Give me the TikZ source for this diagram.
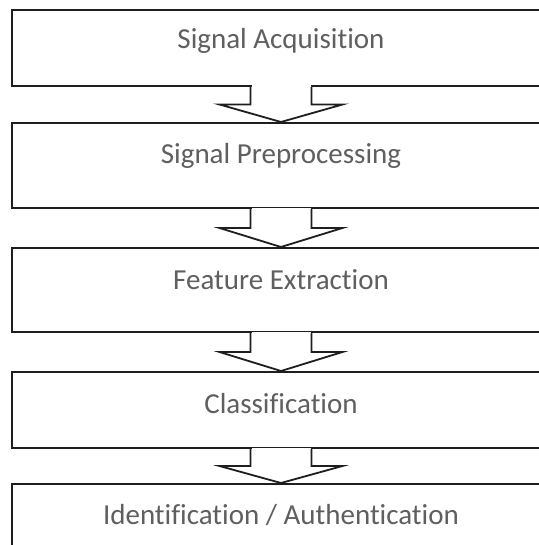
\documentclass[tikz,border=0pt]{standalone}
\usepackage{fontspec}
\setmainfont{Carlito}[Ligatures={NoCommon}]
\usetikzlibrary{calc}
\definecolor{txtgray}{RGB}{95,95,95}
\definecolor{linecol}{RGB}{30,30,30}
\tikzset{
  stagebox/.style={draw=linecol, line width=2pt, fill=white, rectangle, minimum width=538pt, inner sep=0pt},
  stagetext/.style={text=txtgray, font=\fontsize{29}{34}\selectfont, anchor=base, inner sep=0pt},
  blockarrow/.style={draw=linecol, line width=1.8pt, line join=miter, fill=white}
}
\newcommand{\flowarrow}[2]{%
  \fill[white] let \p1=(#1.south) in
    (\x1-29.5pt,\y1+1.5pt) rectangle (\x1+29.5pt,\y1-1.5pt);
  \path[blockarrow] let \p1=(#1.south), \p2=(#2.north), \n1={(\y1+\y2)/2} in
    (\x1-30.5pt,\y1) -- (\x1-30.5pt,\n1) -- (\x1-61.5pt,\n1) -- (\x1,\y2)
      -- (\x1+61.5pt,\n1) -- (\x1+30.5pt,\n1) -- (\x1+30.5pt,\y1);
}
\begin{document}
\begin{tikzpicture}[x=1pt,y=1pt]
\useasboundingbox (0,0) rectangle (538,-545);
\node[stagebox, minimum height=76pt] (b1) at (281,-48) {};
\node[stagebox, minimum height=85pt] (b2) at (281,-165.5) {};
\node[stagebox, minimum height=84pt] (b3) at (281,-290) {};
\node[stagebox, minimum height=76pt] (b4) at (281,-410) {};
\node[stagebox, minimum height=81pt] (b5) at (281,-524.5) {};
\node[stagetext] (t1) at ($(b1.north)+(0,-40)$) {Signal Acquisition};
\node[stagetext] (t2) at ($(b2.north)+(0,-42)$) {Signal Preprocessing};
\node[stagetext] (t3) at ($(b3.north)+(0,-42)$) {Feature Extraction};
\node[stagetext] (t4) at ($(b4.north)+(0,-42)$) {Classification};
\node[stagetext] (t5) at ($(b5.north)+(0,-41)$) {Identification / Authentication};
\flowarrow{b1}{b2}
\flowarrow{b2}{b3}
\flowarrow{b3}{b4}
\flowarrow{b4}{b5}
\end{tikzpicture}
\end{document}
